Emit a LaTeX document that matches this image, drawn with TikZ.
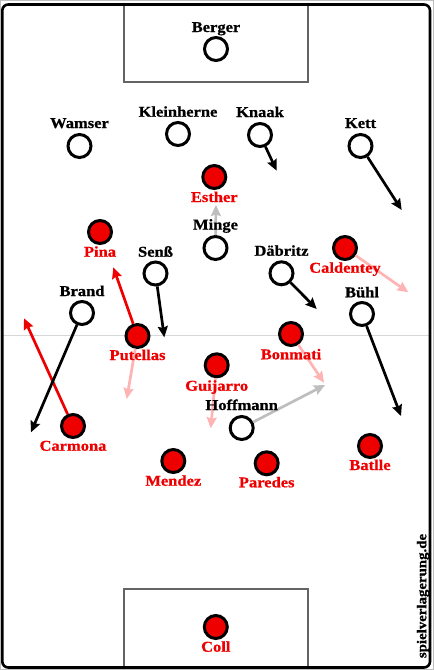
\documentclass[tikz,border=0pt]{standalone}
\usepackage{fontspec}
\newfontfamily\labfont{Liberation Serif Bold}[FakeStretch=1.1, FakeBold=0.8]
\usetikzlibrary{arrows.meta}
\definecolor{plred}{RGB}{238,0,0}
\definecolor{pinkarr}{RGB}{255,180,180}
\definecolor{greyarr}{RGB}{190,190,190}
\definecolor{boxline}{RGB}{100,100,100}
\definecolor{midline}{RGB}{215,215,215}
\tikzset{
  pl/.style={circle, draw=black, line width=3pt, minimum size=23pt, inner sep=0pt},
  redpl/.style={pl, fill=plred},
  whpl/.style={pl, fill=white},
  lab/.style={font=\labfont\fontsize{15}{15}\selectfont, anchor=base, inner sep=0pt},
  redlab/.style={lab, text=plred},
  tip/.style={-{Stealth[length=11pt,width=10pt,inset=1.5pt]}},
  blkarr/.style={line width=2.7pt, draw=black, tip},
  redarr/.style={line width=2.7pt, draw=plred, tip},
  pinkarrow/.style={line width=2.7pt, draw=pinkarr, tip},
  greyarrow/.style={line width=2.7pt, draw=greyarr, tip},
}
\begin{document}
\begin{tikzpicture}[x=1pt,y=-1pt]
\useasboundingbox (0,0) rectangle (434,670);
% field
\draw[line width=1pt, draw=greyarr] (0.5,0.5) rectangle (433.5,669.5);
\draw[line width=1.3pt, draw=boxline] (124,4) -- (124,82) -- (308,82) -- (308,4);
\draw[line width=1.3pt, draw=boxline] (124,668) -- (124,589) -- (308,589) -- (308,668);
\draw[line width=1pt, draw=midline] (3,335) -- (430,335);
\draw[line width=2.6pt, rounded corners=6pt] (2.3,4.5) rectangle (430,667.5);
% players
\node[whpl] (berger) at (216,49) {};
\node[whpl] (wamser) at (79.5,146) {};
\node[whpl] (kleinherne) at (178,134) {};
\node[whpl] (knaak) at (260,135) {};
\node[whpl] (kett) at (360.5,146) {};
\node[redpl] (esther) at (214.3,177) {};
\node[whpl] (minge) at (215.5,248) {};
\node[redpl] (pina) at (100,232) {};
\node[whpl] (senss) at (155.5,273.5) {};
\node[whpl] (daebritz) at (281.5,273.3) {};
\node[redpl] (caldentey) at (345,248) {};
\node[whpl] (brand) at (82,313) {};
\node[whpl] (buehl) at (362,314) {};
\node[redpl] (putellas) at (137.5,336) {};
\node[redpl] (bonmati) at (291,334) {};
\node[redpl] (guijarro) at (216.7,365.3) {};
\node[whpl] (hoffmann) at (241.7,428) {};
\node[redpl] (carmona) at (73,426) {};
\node[redpl] (mendez) at (173.3,461) {};
\node[redpl] (paredes) at (266.7,463.3) {};
\node[redpl] (batlle) at (370,446) {};
\node[redpl] (coll) at (215.8,627) {};
% arrow targets
\coordinate (tknaak) at (276.7,170.7);
\coordinate (tkett) at (401.7,210);
\coordinate (tminge) at (216,205);
\coordinate (tdaebritz) at (316.7,309);
\coordinate (tcaldentey) at (408.3,292.3);
\coordinate (tsenss) at (164.3,337.3);
\coordinate (tputellasup) at (113.3,267.3);
\coordinate (tcarmona) at (24,318.3);
\coordinate (tbrand) at (31,432.3);
\coordinate (tbuehl) at (401,416);
\coordinate (tputellas) at (126.7,399);
\coordinate (tbonmati) at (324,382.7);
\coordinate (tguijarro) at (210.7,428.3);
\coordinate (thoffmann) at (325,385);
% arrows
\draw[blkarr] (knaak) -- (tknaak);
\draw[blkarr] (kett) -- (tkett);
\draw[greyarrow] (minge) -- (tminge);
\draw[blkarr] (daebritz) -- (tdaebritz);
\draw[pinkarrow] (caldentey) -- (tcaldentey);
\draw[blkarr] (senss) -- (tsenss);
\draw[redarr] (putellas) -- (tputellasup);
\draw[redarr] (carmona) -- (tcarmona);
\draw[blkarr] (brand) -- (tbrand);
\draw[blkarr] (buehl) -- (tbuehl);
\draw[pinkarrow] (putellas) -- (tputellas);
\draw[pinkarrow] (bonmati) -- (tbonmati);
\draw[pinkarrow] (guijarro) -- (tguijarro);
\draw[greyarrow] (hoffmann) -- (thoffmann);
% labels
\node[lab] (lberger) at (216,32) {Berger};
\node[lab] (lwamser) at (79.5,128) {Wamser};
\node[lab] (lkleinherne) at (178,116.7) {Kleinherne};
\node[lab] (lknaak) at (260,117) {Knaak};
\node[lab] (lkett) at (360.5,128) {Kett};
\node[redlab] (lesther) at (214.3,202) {Esther};
\node[lab] (lminge) at (215.5,229.5) {Minge};
\node[redlab] (lpina) at (100,256.7) {Pina};
\node[lab] (lsenss) at (155.5,256.7) {Senß};
\node[lab] (ldaebritz) at (281.5,255.7) {Däbritz};
\node[redlab] (lcaldentey) at (345,272.7) {Caldentey};
\node[lab] (lbrand) at (82,296) {Brand};
\node[lab] (lbuehl) at (362,297.3) {Bühl};
\node[redlab] (lputellas) at (137.5,360) {Putellas};
\node[redlab] (lbonmati) at (291,359.3) {Bonmati};
\node[redlab] (lguijarro) at (216.7,390.7) {Guijarro};
\node[lab] (lhoffmann) at (241.7,410) {Hoffmann};
\node[redlab] (lcarmona) at (73,450.7) {Carmona};
\node[redlab] (lmendez) at (173.3,485.7) {Mendez};
\node[redlab] (lparedes) at (266.7,487.3) {Paredes};
\node[redlab] (lbatlle) at (370,470) {Batlle};
\node[redlab] (lcoll) at (215.8,651.7) {Coll};
\node[font=\labfont\fontsize{13.5}{13.5}\selectfont, rotate=90, inner sep=0pt] (wm) at (423,596) {spielverlagerung.de};
\end{tikzpicture}
\end{document}
